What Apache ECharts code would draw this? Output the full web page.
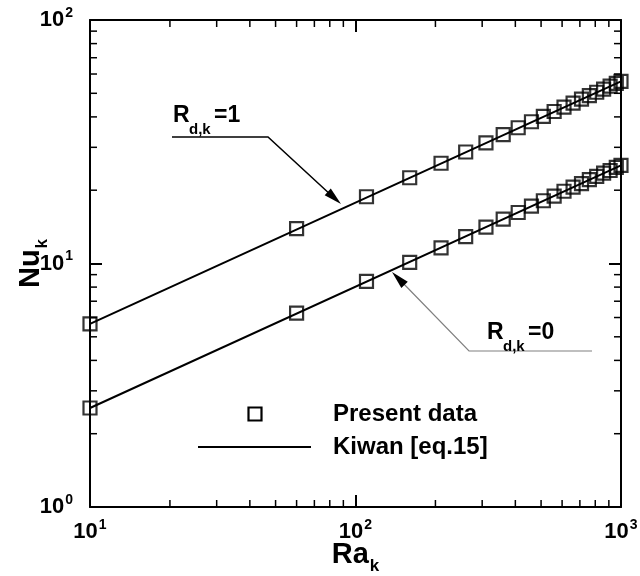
<!DOCTYPE html>
<html>
<head>
<meta charset="utf-8">
<script src="https://cdn.jsdelivr.net/npm/echarts@6/dist/echarts.min.js"></script>
<style>
  html, body { margin: 0; padding: 0; background: #ffffff; }
  #chart { width: 640px; height: 576px; }
</style>
</head>
<body>
<div id="chart"></div>
<script>
// Rayleigh numbers of the computed cases
const raValues = [10, 60, 110, 160, 210, 260, 310, 360, 410, 460, 510, 560, 610, 660, 710, 760, 810, 860, 910, 960, 1000];
// Nusselt numbers, R_d,k = 1
const nuUpper = [5.65, 13.9, 18.8, 22.5, 25.8, 28.7, 31.3, 33.8, 36.1, 38.2, 40.2, 42.1, 43.9, 45.6, 47.3, 48.9, 50.5, 52.0, 53.5, 54.9, 56.0];
// Nusselt numbers, R_d,k = 0
const nuLower = [2.55, 6.25, 8.45, 10.1, 11.6, 12.9, 14.1, 15.2, 16.2, 17.2, 18.1, 18.9, 19.8, 20.6, 21.3, 22.1, 22.8, 23.5, 24.1, 24.8, 25.3];
// Kiwan correlation (eq. 15), straight lines on log-log axes
const kiwanRa = [10, 1000];
const kiwanUpper = [5.65, 56.0];
const kiwanLower = [2.55, 25.3];

// Axis ticks
const xMajorTicks = [10, 100, 1000];
const xTickExponents = ['1', '2', '3'];
const yMajorTicks = [1, 10, 100];
const yTickExponents = ['0', '1', '2'];
const xMinorTicks = [20, 30, 40, 50, 60, 70, 80, 90, 200, 300, 400, 500, 600, 700, 800, 900];
const yMinorTicks = [2, 3, 4, 5, 6, 7, 8, 9, 20, 30, 40, 50, 60, 70, 80, 90];

const FONT = 'Liberation Sans';
const INK = '#000000';

function pairs(xs, ys) { return xs.map((x, i) => [x, ys[i]]); }

function powerLabel(ticks, exps) {
  return function (v) {
    const i = ticks.findIndex(t => Math.abs(t - v) < 1e-6 * t);
    return i < 0 ? '' : '{b|10}{s|' + exps[i] + '}';
  };
}

const tickRich = {
  b: { fontFamily: FONT, fontWeight: 'bold', fontSize: 22, color: INK, verticalAlign: 'top', lineHeight: 22 },
  s: { fontFamily: FONT, fontWeight: 'bold', fontSize: 14, color: INK, verticalAlign: 'top', lineHeight: 14, padding: [-3, 0, 0, 1] }
};
const nameRich = {
  b: { fontFamily: FONT, fontWeight: 'bold', fontSize: 29, color: INK, verticalAlign: 'top', lineHeight: 29 },
  s: { fontFamily: FONT, fontWeight: 'bold', fontSize: 17, color: INK, verticalAlign: 'top', lineHeight: 17, padding: [18, 0, 0, 1] }
};

function logAxis(extra) {
  return Object.assign({
    type: 'log',
    logBase: 10,
    splitLine: { show: false },
    axisLine: { show: true, onZero: false, lineStyle: { color: INK, width: 2 } },
    axisTick: { show: true, inside: true, length: 12, lineStyle: { color: INK, width: 2 } },
    minorTick: { show: false }
  }, extra);
}

// Minor ticks drawn inward on both opposite frame edges
function xMinorRender(params, api) {
  const x = api.value(0);
  const b = api.coord([x, 1]);
  const t = api.coord([x, 100]);
  const st = { stroke: INK, lineWidth: 1.5 };
  return { type: 'group', children: [
    { type: 'line', shape: { x1: b[0], y1: b[1], x2: b[0], y2: b[1] - 7 }, style: st },
    { type: 'line', shape: { x1: t[0], y1: t[1], x2: t[0], y2: t[1] + 7 }, style: st }
  ] };
}
function yMinorRender(params, api) {
  const y = api.value(1);
  const l = api.coord([10, y]);
  const r = api.coord([1000, y]);
  const st = { stroke: INK, lineWidth: 1.5 };
  return { type: 'group', children: [
    { type: 'line', shape: { x1: l[0], y1: l[1], x2: l[0] + 7, y2: l[1] }, style: st },
    { type: 'line', shape: { x1: r[0], y1: r[1], x2: r[0] - 7, y2: r[1] }, style: st }
  ] };
}

function arrowHead(tip, from, len, halfW, color) {
  const dx = tip[0] - from[0], dy = tip[1] - from[1];
  const d = Math.hypot(dx, dy);
  const ux = dx / d, uy = dy / d;
  const bx = tip[0] - ux * len, by = tip[1] - uy * len;
  return {
    type: 'polygon',
    shape: { points: [tip, [bx - uy * halfW, by + ux * halfW], [bx + uy * halfW, by - ux * halfW]] },
    style: { fill: color }
  };
}

function txt(x, y, text, size, valign) {
  return { type: 'text', x: x, y: y, style: {
    text: text, fontFamily: FONT, fontWeight: 'bold', fontSize: size, fill: INK,
    verticalAlign: valign || 'alphabetic', align: 'left'
  } };
}

function subLabel(x, baseline, sub, tail) {
  return [
    txt(x, baseline, 'R', 23, 'bottom'),
    txt(x + 16, baseline + 10, sub, 15, 'bottom'),
    txt(x + 41, baseline, tail, 23, 'bottom')
  ];
}

const chart = echarts.init(document.getElementById('chart'), null, { renderer: 'canvas' });

const squareStyle = { color: 'rgba(0,0,0,0)', borderColor: INK, borderWidth: 2.2 };

chart.setOption({
  animation: false,
  backgroundColor: '#ffffff',
  grid: { left: 90, right: 19, top: 20, bottom: 69, containLabel: false, outerBoundsMode: 'none' },
  xAxis: [
    logAxis({
      position: 'bottom', min: 10, max: 1000,
      name: '{b|Ra}{s|k}', nameLocation: 'middle', nameGap: 33, nameMoveOverlap: false,
      nameTextStyle: { rich: nameRich },
      axisLabel: { show: true, margin: 14, formatter: powerLabel(xMajorTicks, xTickExponents), rich: tickRich }
    }),
    logAxis({ position: 'top', min: 10, max: 1000, axisLabel: { show: false } })
  ],
  yAxis: [
    logAxis({
      position: 'left', min: 1, max: 100,
      name: '{b|Nu}{s|k}', nameLocation: 'middle', nameGap: 45, nameRotate: 90, nameMoveOverlap: false,
      nameTextStyle: { rich: nameRich },
      axisLabel: { show: true, margin: 17, formatter: powerLabel(yMajorTicks, yTickExponents), rich: tickRich }
    }),
    logAxis({ position: 'right', min: 1, max: 100, axisLabel: { show: false } })
  ],
  series: [
    { type: 'custom', name: 'xMinor', xAxisIndex: 0, yAxisIndex: 0, renderItem: xMinorRender,
      data: xMinorTicks.map(v => [v, 1]), clip: false, silent: true, z: 1 },
    { type: 'custom', name: 'yMinor', xAxisIndex: 0, yAxisIndex: 0, renderItem: yMinorRender,
      data: yMinorTicks.map(v => [10, v]), clip: false, silent: true, z: 1 },
    { type: 'line', name: 'Kiwan [eq.15]', data: pairs(kiwanRa, kiwanUpper), showSymbol: false, symbol: 'none',
      lineStyle: { color: INK, width: 2 }, z: 2 },
    { type: 'line', name: 'Kiwan [eq.15]', data: pairs(kiwanRa, kiwanLower), showSymbol: false, symbol: 'none',
      lineStyle: { color: INK, width: 2 }, z: 2 },
    { type: 'scatter', name: 'Present data', data: pairs(raValues, nuUpper), symbol: 'rect', symbolSize: 13,
      itemStyle: squareStyle, z: 3 },
    { type: 'scatter', name: 'Present data', data: pairs(raValues, nuLower), symbol: 'rect', symbolSize: 13,
      itemStyle: squareStyle, z: 3 }
  ],
  graphic: [
    // legend
    { type: 'rect', shape: { x: 248.5, y: 407.5, width: 13, height: 13 }, style: { fill: 'none', stroke: INK, lineWidth: 2.2 } },
    { type: 'line', shape: { x1: 198, y1: 447, x2: 311, y2: 447 }, style: { stroke: INK, lineWidth: 2 } },
    txt(333, 414, 'Present data', 24, 'middle'),
    txt(333, 447, 'Kiwan [eq.15]', 24, 'middle'),
    // R_d,k = 1 annotation
    { type: 'polyline', shape: { points: [[172, 137], [268, 137], [332, 196]] }, style: { stroke: INK, lineWidth: 1.5, fill: 'none' } },
    arrowHead([341, 204], [268, 137], 18, 4.5, INK),
    ...subLabel(173, 127, 'd,k', '=1'),
    // R_d,k = 0 annotation
    { type: 'polyline', shape: { points: [[592, 351], [469, 351], [400, 280]] }, style: { stroke: '#808080', lineWidth: 1.2, fill: 'none' } },
    arrowHead([392, 272], [469, 351], 18, 4.5, INK),
    ...subLabel(487, 344, 'd,k', '=0')
  ]
});
</script>
</body>
</html>
